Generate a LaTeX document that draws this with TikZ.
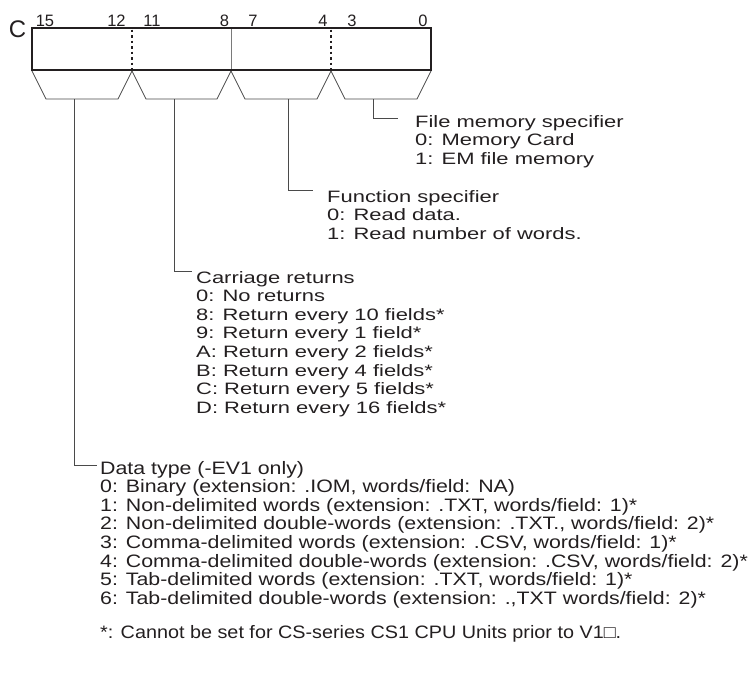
\documentclass[tikz,border=0pt]{standalone}
\usepackage{fontspec}
\setmainfont{Liberation Sans}
\newfontfamily\descfont[FakeStretch=1.33]{Liberation Sans}
\newfontfamily\typefont[FakeStretch=1.185]{Liberation Sans}
\newfontfamily\notefont[FakeStretch=1.1]{Liberation Sans}
\usetikzlibrary{positioning, calc}
\definecolor{inkblack}{HTML}{231F20}
\definecolor{leadgray}{HTML}{4A4A4A}
\definecolor{sepgray}{HTML}{7A7A7A}

\begin{document}
\begin{tikzpicture}[x=1pt, y=-1pt,
  desc/.style={anchor=base west, inner sep=0pt, text=inkblack,
               font=\descfont\fontsize{16.5}{18.6}\selectfont},
  typedesc/.style={desc, font=\typefont\fontsize{18}{18.6}\selectfont},
  bitnum/.style={anchor=base, inner sep=0pt, text=inkblack,
                 font=\fontsize{16.5}{16.5}\selectfont},
  regbox/.style={draw=inkblack, line width=2.5pt},
  field/.style={draw=leadgray, line width=0.8pt},
  lead/.style={draw=leadgray, line width=0.8pt},
  dotsep/.style={draw=inkblack, line width=1.5pt, dash pattern=on 2.5pt off 3pt},
]
  \useasboundingbox (0,0) rectangle (754,673);

  % register C and its bit numbers
  \node[anchor=base east, inner sep=0pt, text=inkblack,
        font=\fontsize{24}{24}\selectfont] (cname) at (26.5,37) {C};
  \foreach \b/\x in {15/45, 12/116.5, 11/152, 8/224.5, 7/253, 4/323, 3/352, 0/423}
    \node[bitnum] (bit\b) at (\x,26) {\b};

  \draw[regbox] (32,28) rectangle (431,70);
  \draw[dotsep] (132,29.5) -- (132,68.5);
  \draw[sepgray, line width=0.8pt] (231,29) -- (231,69);
  \draw[dotsep] (331,29.5) -- (331,68.5);

  % digit groups
  \foreach \l/\r in {32/132, 132/231, 231/331, 331/431}
    \draw[field] (\l,71) -- (\l+14,99) -- (\r-14,99) -- (\r,71);

  \coordinate (s1) at (74,99);
  \coordinate (s2) at (174,99);
  \coordinate (s3) at (288,99);
  \coordinate (s4) at (373,99);

  \node[desc] (fmspec) at (415,127) {\begin{tabular}[t]{@{}l@{}}
    File memory specifier\\0: Memory Card\\1: EM file memory\end{tabular}};
  \node[desc] (fnspec) at (327,202) {\begin{tabular}[t]{@{}l@{}}
    Function specifier\\0: Read data.\\1: Read number of words.\end{tabular}};
  \node[desc] (crret) at (196,283) {\begin{tabular}[t]{@{}l@{}}
    Carriage returns\\0: No returns\\8: Return every 10 fields*\\9: Return every 1 field*\\
    A: Return every 2 fields*\\B: Return every 4 fields*\\C: Return every 5 fields*\\
    D: Return every 16 fields*\end{tabular}};
  \node[typedesc] (dtype) at (100,474) {\begin{tabular}[t]{@{}l@{}}
    Data type (-EV1 only)\\
    0: Binary (extension: .IOM, words/field: NA)\\
    1: Non-delimited words (extension: .TXT, words/field: 1)*\\
    2: Non-delimited double-words (extension: .TXT., words/field: 2)*\\
    3: Comma-delimited words (extension: .CSV, words/field: 1)*\\
    4: Comma-delimited double-words (extension: .CSV, words/field: 2)*\\
    5: Tab-delimited words (extension: .TXT, words/field: 1)*\\
    6: Tab-delimited double-words (extension: .,TXT words/field: 2)*\end{tabular}};
  \node[typedesc, font=\notefont\fontsize{18}{18.6}\selectfont] (fnote) at (100,638)
    {*: Cannot be set for CS-series CS1 CPU Units prior to V1□.};

  \draw[lead] (s4) |- ([xshift=-17pt, yshift=9pt]fmspec.base west);
  \draw[lead] (s3) |- ([xshift=-14pt, yshift=12pt]fnspec.base west);
  \draw[lead] (s2) |- ([xshift=-4pt, yshift=12pt]crret.base west);
  \draw[lead] (s1) |- ([xshift=-3pt, yshift=9pt]dtype.base west);
\end{tikzpicture}
\end{document}
